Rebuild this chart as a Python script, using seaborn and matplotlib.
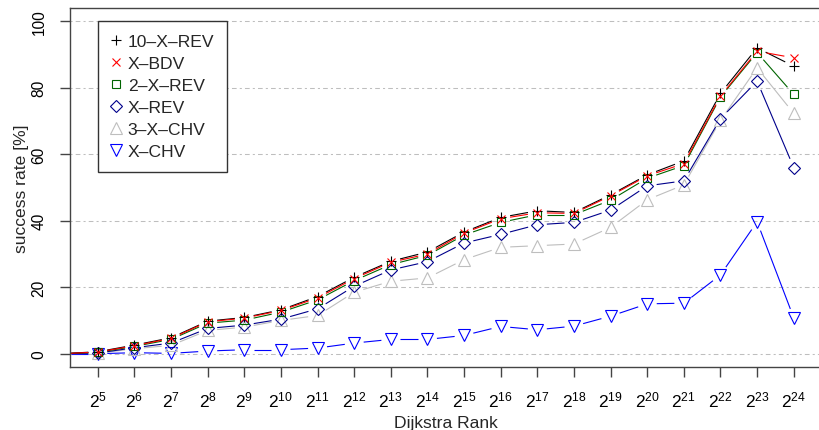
import numpy as np
import matplotlib
matplotlib.use("Agg")
import matplotlib.pyplot as plt
import seaborn as sns
from matplotlib.lines import Line2D
from matplotlib.collections import LineCollection

# ---- data ----
rank_exp = [4, 5, 6, 7, 8, 9, 10, 11, 12, 13, 14, 15, 16, 17, 18, 19, 20, 21, 22, 23, 24]
ten_x_rev = [0, 0.6, 2.6, 4.8, 9.8, 10.9, 13.2, 17.2, 23.0, 27.8, 30.6, 36.6, 41.0, 43.0, 42.5, 47.8, 53.8, 58.0, 78.3, 92.0, 86.5]
x_bdv     = [0, 0.5, 2.4, 4.6, 9.6, 10.7, 13.0, 16.8, 22.6, 27.5, 30.0, 36.3, 40.6, 42.4, 42.2, 47.5, 53.5, 57.2, 77.5, 91.0, 89.0]
two_x_rev = [0, 0.4, 2.2, 4.3, 9.2, 10.1, 12.5, 16.2, 22.0, 26.8, 29.6, 35.7, 39.5, 41.8, 41.8, 46.2, 52.8, 56.6, 77.2, 90.6, 78.0]
x_rev     = [0, 0.2, 1.8, 3.2, 7.6, 8.6, 10.4, 13.5, 20.3, 25.2, 27.7, 33.3, 35.9, 38.8, 39.5, 43.2, 50.5, 52.0, 70.7, 82.0, 56.0]
three_x_chv = [0, 0.1, 1.5, 2.5, 7.0, 8.0, 10.0, 11.5, 18.5, 21.8, 22.8, 28.3, 32.0, 32.5, 33.0, 38.0, 46.3, 50.8, 70.2, 86.0, 72.3]
x_chv     = [0, 0.0, 0.3, 0.1, 0.8, 1.2, 1.2, 1.7, 3.2, 4.3, 4.3, 5.5, 8.2, 7.2, 8.3, 11.3, 15.0, 15.2, 23.7, 39.7, 10.8]

series_names = ["10\u2013X\u2013REV", "X\u2013BDV", "2\u2013X\u2013REV", "X\u2013REV", "3\u2013X\u2013CHV", "X\u2013CHV"]
series_values = [ten_x_rev, x_bdv, two_x_rev, x_rev, three_x_chv, x_chv]
tick_exps = list(range(5, 25))
y_ticks = [0, 20, 40, 60, 80, 100]

# ---- styles ----
colors = ["#000000", "#FF0000", "#006400", "#00008B", "#BEBEBE", "#0000FF"]
markers = ["+", "x", "s", "D", "^", "v"]
msizes = [7.0, 5.8, 5.4, 6.0, 8.0, 8.2]

sns.set_style("white")
plt.rcParams['font.family'] = ['Liberation Sans', 'DejaVu Sans']
plt.rcParams['mathtext.fontset'] = 'custom'
plt.rcParams['mathtext.rm'] = 'Liberation Sans'
plt.rcParams['mathtext.it'] = 'Liberation Sans:italic'
plt.rcParams['mathtext.bf'] = 'Liberation Sans:bold'

W, H = 819, 431
fig = plt.figure(figsize=(W / 100, H / 100), dpi=100)
ax = fig.add_axes([70 / W, 1 - 368 / H, 749 / W, 359 / H])
ax.set_xlim(4.24, 24.69)
ax.set_ylim(-4, 104)

# grid
ax.set_yticks(y_ticks)
ax.set_yticklabels([str(v) for v in y_ticks])
ax.set_xticks(tick_exps)
ax.set_xticklabels([r"$2^{%d}$" % e for e in tick_exps])
ax.grid(axis='y', color='#BEBEBE', linewidth=0.75, linestyle=(0, (2, 3, 4.5, 3)))
ax.grid(axis='x', visible=False)
ax.set_axisbelow(True)

# draw order: bottom series first
order = [5, 4, 3, 2, 0, 1]
fig.canvas.draw()
gap = 9.5  # px gap around points (R type="b")
for i in order:
    vals = series_values[i]
    c = colors[i]
    sns.lineplot(x=rank_exp, y=vals, ax=ax, color=c, marker=markers[i],
                 markersize=msizes[i], markeredgewidth=0.8, markeredgecolor=c,
                 markerfacecolor='none', linestyle='', legend=False, zorder=3,
                 sort=False, errorbar=None)
    pts = ax.transData.transform(np.column_stack([rank_exp, vals]))
    segs = []
    for p, q in zip(pts[:-1], pts[1:]):
        d = q - p
        L = np.hypot(*d)
        if L > 2 * gap:
            u = d / L
            a = ax.transData.inverted().transform(p + gap * u)
            b = ax.transData.inverted().transform(q - gap * u)
            segs.append([a, b])
    lc = LineCollection(segs, colors=c, linewidths=0.8, zorder=2.5)
    ax.add_collection(lc)

# spines / ticks
ax.spines['right'].set_visible(False)
for s in ['left', 'top', 'bottom']:
    ax.spines[s].set_color('#444444')
    ax.spines[s].set_linewidth(1.0)
ax.tick_params(axis='both', which='major', bottom=True, left=True, top=False, right=False,
               direction='out', length=7, width=1.0, color='#444444', labelcolor='black')
ax.tick_params(axis='x', pad=9, labelsize=12.5)
ax.tick_params(axis='y', pad=10, labelsize=11.2)
for lab in ax.get_yticklabels():
    lab.set_rotation(90)
    lab.set_va('center')

fig.text(446 / W, 1 - 428 / H, "Dijkstra Rank", ha='center', va='baseline', fontsize=12.6)
fig.text(22 / W, 1 - 189 / H, "success rate [%]", ha='center', va='center', rotation=90, fontsize=12.6)

handles = [Line2D([], [], linestyle='none', marker=markers[i], color=colors[i],
                  markerfacecolor='none', markeredgecolor=colors[i],
                  markersize=msizes[i], markeredgewidth=0.8) for i in range(6)]
leg = ax.legend(handles, series_names, loc='upper left',
                bbox_to_anchor=(98 / W, 1 - 22 / H), bbox_transform=fig.transFigure,
                borderaxespad=0, fontsize=12.6, frameon=True, fancybox=False,
                framealpha=1, borderpad=0.75, labelspacing=0.38, handlelength=0.5,
                handletextpad=0.45)
leg.get_frame().set_edgecolor('#333333')
leg.get_frame().set_linewidth(1.0)
leg.set_zorder(5)

fig.savefig("out.png", dpi=100)
